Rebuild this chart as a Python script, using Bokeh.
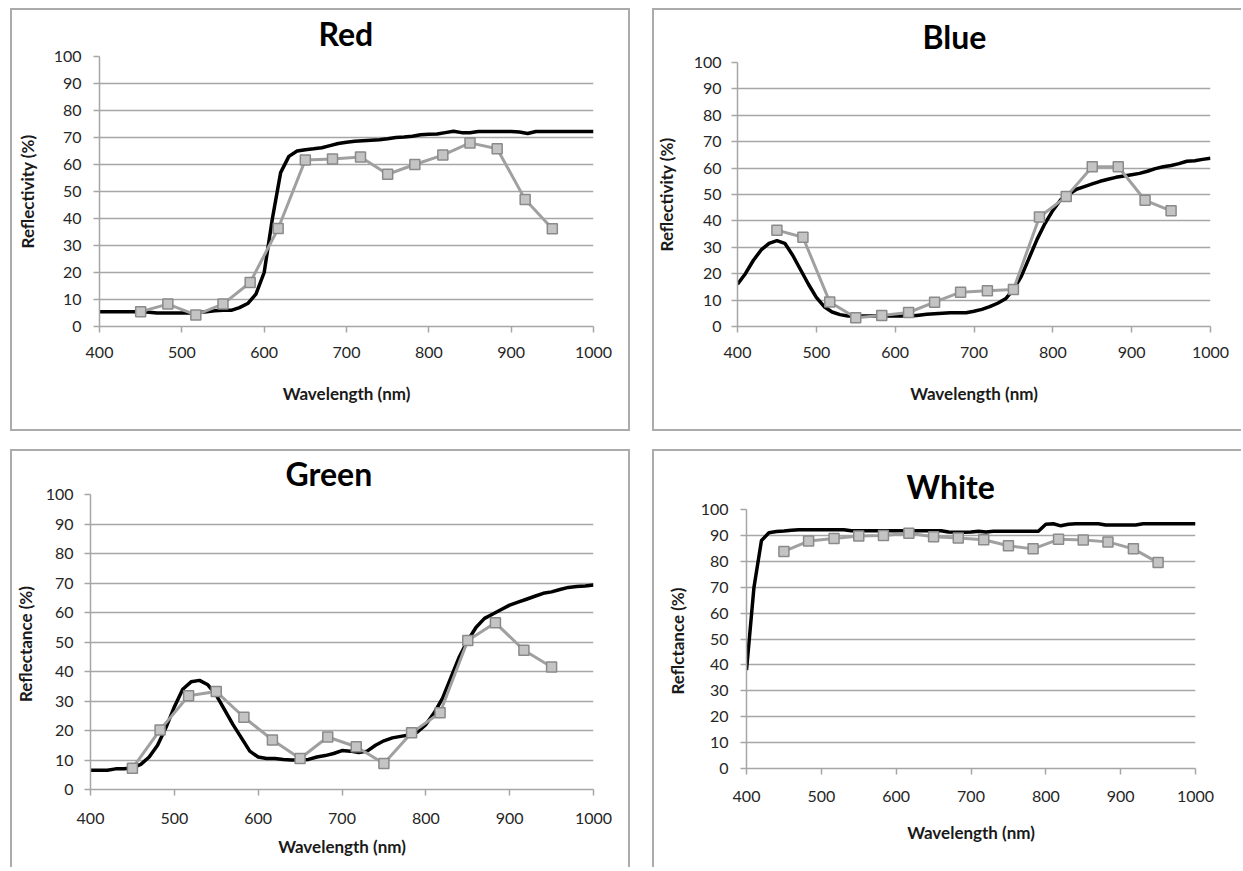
from bokeh.plotting import figure
from bokeh.layouts import column, row
from bokeh.models import Spacer, Title, FixedTicker
from bokeh.embed import file_html
from bokeh.resources import INLINE

# ---------------- data ----------------
wl_line = list(range(400, 1001, 10))
wl_pts = [450, 483, 517, 550, 583, 617, 650, 683, 717, 750, 783, 817, 850, 883, 917, 950]
x_ticks = [400, 500, 600, 700, 800, 900, 1000]
y_ticks = [0, 10, 20, 30, 40, 50, 60, 70, 80, 90, 100]

red_line = [5.5, 5.5, 5.5, 5.5, 5.5, 5.5, 5.3, 5.0, 5.0, 5.0,
            5.0, 5.0, 5.2, 5.5, 5.8, 6.0, 6.0, 7.0, 8.5, 12.0,
            20.0, 40.0, 57.0, 63.0, 65.0, 65.5, 65.8, 66.2, 67.0, 67.8,
            68.2, 68.6, 68.8, 69.0, 69.2, 69.5, 70.0, 70.2, 70.5, 71.0,
            71.2, 71.3, 71.8, 72.3, 71.8, 71.8, 72.2, 72.2, 72.2, 72.2,
            72.2, 72.0, 71.5, 72.2, 72.2, 72.2, 72.2, 72.2, 72.2, 72.2, 72.2]
red_pts = [5.5, 8.3, 4.3, 8.3, 16.3, 36.3, 61.7, 62.0, 62.8, 56.4, 60.0, 63.5, 68.0, 65.8, 47.0, 36.2]

blue_line = [16.0, 20.0, 25.0, 29.0, 31.5, 32.5, 31.5, 27.0, 21.5, 16.0,
             11.0, 7.5, 5.5, 4.5, 4.0, 4.0, 4.0, 4.0, 4.0, 4.0,
             4.0, 4.0, 4.0, 4.3, 4.6, 4.8, 5.0, 5.2, 5.2, 5.2,
             5.8, 6.5, 7.5, 8.8, 10.5, 14.0, 19.0, 26.0, 33.0, 39.0,
             44.0, 48.0, 50.0, 52.0, 53.0, 54.0, 55.0, 55.8, 56.5, 57.0,
             57.5, 58.0, 58.8, 59.8, 60.5, 61.0, 61.7, 62.6, 62.8, 63.3, 63.7]
blue_pts = [36.5, 33.8, 9.3, 3.3, 4.2, 5.3, 9.2, 13.0, 13.5, 14.0, 41.5, 49.2, 60.5, 60.5, 47.8, 43.8]

green_line = [6.5, 6.5, 6.5, 7.0, 7.0, 7.3, 8.5, 11.0, 15.0, 21.0,
              28.0, 34.0, 36.5, 37.0, 35.5, 32.0, 27.0, 22.0, 17.5, 13.0,
              11.0, 10.5, 10.5, 10.2, 10.0, 10.0, 10.2, 11.0, 11.5, 12.2,
              13.2, 13.0, 12.5, 13.0, 15.0, 16.5, 17.5, 18.0, 18.5, 19.5,
              22.0, 26.0, 31.0, 38.0, 45.0, 50.5, 55.0, 58.0, 59.5, 61.0,
              62.5, 63.5, 64.5, 65.5, 66.5, 67.0, 67.8, 68.5, 68.8, 69.0, 69.3]
green_pts = [7.2, 20.2, 31.8, 33.2, 24.5, 16.8, 10.5, 17.8, 14.5, 8.8, 19.2, 26.0, 50.5, 56.5, 47.2, 41.5]

white_line = [38.0, 70.0, 88.0, 91.0, 91.5, 91.7, 92.0, 92.2, 92.2, 92.2,
              92.2, 92.2, 92.2, 92.2, 91.8, 91.8, 91.8, 91.8, 91.8, 91.8,
              91.8, 91.8, 91.8, 91.8, 91.8, 91.8, 91.8, 91.3, 91.2, 91.2,
              91.3, 91.6, 91.3, 91.6, 91.6, 91.6, 91.6, 91.6, 91.6, 91.6,
              94.3, 94.5, 93.7, 94.3, 94.5, 94.5, 94.5, 94.5, 94.0, 94.0,
              94.0, 94.0, 94.0, 94.5, 94.5, 94.5, 94.5, 94.5, 94.5, 94.5, 94.5]
white_pts = [83.8, 87.8, 88.8, 89.8, 90.0, 90.8, 89.5, 89.0, 88.3, 86.0, 84.8, 88.5, 88.2, 87.5, 84.8, 79.5]

titles = ["Red", "Blue", "Green", "White"]
y_labels = ["Reflectivity (%)", "Reflectivity (%)", "Reflectance  (%)", "Reflctance  (%)"]
x_label = "Wavelength (nm)"

FONT = "Lato"
GRID = "#a6a6a6"
FRAME = "#ababab"


def make_panel(title, ylabel, line_vals, pt_vals, fl, fw, ft, fh, fr, fb,
               t_standoff, t_offset, xl_std, xa_std, yl_std, ya_std, shadow):
    p = figure(frame_width=fw, frame_height=fh,
               min_border_left=fl, min_border_right=fr,
               min_border_top=ft, min_border_bottom=fb,
               x_range=(400, 1000), y_range=(0, 100),
               output_backend="svg", toolbar_location=None)
    p.border_fill_color = None
    p.background_fill_color = None
    p.outline_line_color = None
    p.styles = {"box-shadow": shadow}

    t = Title(text=title, align="left", text_font=FONT, text_font_size="32px",
              text_font_style="bold", text_color="#000000",
              standoff=t_standoff, offset=t_offset)
    p.add_layout(t, "above")

    p.xaxis.ticker = FixedTicker(ticks=x_ticks)
    p.yaxis.ticker = FixedTicker(ticks=y_ticks)
    p.xgrid.visible = False
    p.ygrid.grid_line_color = GRID
    p.ygrid.grid_line_width = 1.5
    for ax in (p.xaxis[0], p.yaxis[0]):
        ax.axis_line_color = GRID
        ax.axis_line_width = 1.5
        ax.major_tick_line_color = GRID
        ax.major_tick_line_width = 1.5
        ax.major_tick_out = 6
        ax.major_tick_in = 0
        ax.minor_tick_out = 0
        ax.minor_tick_in = 0
        ax.major_label_text_font = FONT
        ax.major_label_text_font_size = "16px"
        ax.major_label_text_color = "#262626"
        ax.axis_label_text_font = FONT
        ax.axis_label_text_font_size = "17px"
        ax.axis_label_text_font_style = "bold"
        ax.axis_label_text_color = "#1a1a1a"
    p.xaxis.axis_label = x_label
    p.yaxis.axis_label = ylabel
    p.xaxis.major_label_standoff = xl_std
    p.xaxis.axis_label_standoff = xa_std
    p.yaxis.major_label_standoff = yl_std
    p.yaxis.axis_label_standoff = ya_std

    p.line(wl_line, line_vals, line_color="#000000", line_width=3.5)
    p.line(wl_pts, pt_vals, line_color="#a0a0a0", line_width=3)
    p.scatter(wl_pts, pt_vals, marker="square", size=10,
              fill_color="#c4c4c4", line_color="#8a8a8a", line_width=1.5)
    return p


p1 = make_panel(titles[0], y_labels[0], red_line, red_pts,
                fl=89, fw=494, ft=48, fh=270, fr=37, fb=105,
                t_standoff=7, t_offset=219, xl_std=14, xa_std=22, yl_std=12, ya_std=13,
                shadow="inset 0 0 0 2px " + FRAME)
p2 = make_panel(titles[1], y_labels[1], blue_line, blue_pts,
                fl=85, fw=473, ft=54, fh=264, fr=31, fb=105,
                t_standoff=13, t_offset=185, xl_std=14, xa_std=22, yl_std=10, ya_std=14,
                shadow="inset 2px 2px 0 0 " + FRAME + ", inset 0 -2px 0 0 " + FRAME)
p3 = make_panel(titles[2], y_labels[2], green_line, green_pts,
                fl=80, fw=503, ft=45, fh=295, fr=37, fb=78,
                t_standoff=4, t_offset=195, xl_std=17, xa_std=9, yl_std=11, ya_std=7,
                shadow="inset 2px 2px 0 0 " + FRAME + ", inset -2px 0 0 0 " + FRAME)
p4 = make_panel(titles[3], y_labels[3], white_line, white_pts,
                fl=94, fw=449, ft=60, fh=259, fr=46, fb=99,
                t_standoff=8, t_offset=160, xl_std=16, xa_std=17, yl_std=12, ya_std=10,
                shadow="inset 2px 2px 0 0 " + FRAME)

layout = column(
    Spacer(height=8),
    row(Spacer(width=10), column(p1), Spacer(width=22), column(p2)),
    Spacer(height=18),
    row(Spacer(width=10), column(p3), Spacer(width=22), column(p4)),
)

open("out.html", "w").write(file_html(layout, INLINE))
